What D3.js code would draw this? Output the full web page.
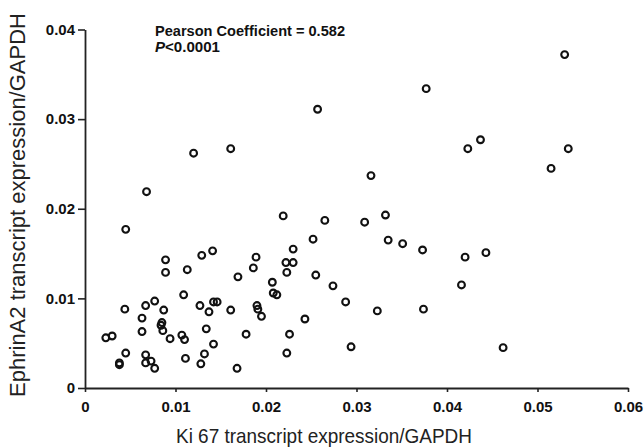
<!DOCTYPE html>
<html>
<head>
<meta charset="utf-8">
<script src="https://cdn.jsdelivr.net/npm/d3@7"></script>
<style>
  body { margin: 0; background: #fff; }
  svg { display: block; font-family: "Liberation Sans", Arial, sans-serif; }
</style>
</head>
<body>
<script>
  var width = 644;
  var height = 447;

  // Ki67 / GAPDH (x) and EphrinA2 / GAPDH (y)
  var ki67 = [
    0.0120, 0.0161, 0.0068, 0.0045, 0.0219, 0.0089, 0.0129, 0.0141, 0.0189, 0.0222,
    0.0089, 0.0113, 0.0186, 0.0223, 0.0169, 0.0207, 0.0109, 0.0208, 0.0212, 0.0044,
    0.0067, 0.0077, 0.0087, 0.0127, 0.0137, 0.0142, 0.0146, 0.0161, 0.0190, 0.0191,
    0.0195, 0.0063, 0.0085, 0.0084, 0.0086, 0.0063, 0.0023, 0.0030, 0.0094, 0.0107,
    0.0110, 0.0134, 0.0178, 0.0226, 0.0045, 0.0067, 0.0111, 0.0132, 0.0142, 0.0223,
    0.0038, 0.0038, 0.0067, 0.0073, 0.0077, 0.0128, 0.0168, 0.0377, 0.0257, 0.0423,
    0.0437, 0.0316, 0.0265, 0.0309, 0.0332, 0.0252, 0.0230, 0.0335, 0.0351, 0.0373,
    0.0420, 0.0230, 0.0255, 0.0274, 0.0416, 0.0288, 0.0323, 0.0374, 0.0243, 0.0294,
    0.0443, 0.0462, 0.0530, 0.0534, 0.0515
  ];
  var ephrinA2 = [
    0.0262, 0.0267, 0.0219, 0.0177, 0.0192, 0.0143, 0.0148, 0.0153, 0.0146, 0.0140,
    0.0129, 0.0132, 0.0134, 0.0129, 0.0124, 0.0118, 0.0104, 0.0106, 0.0104, 0.0088,
    0.0092, 0.0097, 0.0087, 0.0092, 0.0085, 0.0096, 0.0096, 0.0087, 0.0092, 0.0088,
    0.0080, 0.0078, 0.0073, 0.0070, 0.0064, 0.0063, 0.0056, 0.0058, 0.0055, 0.0059,
    0.0054, 0.0066, 0.0060, 0.0060, 0.0039, 0.0037, 0.0033, 0.0038, 0.0049, 0.0039,
    0.0028, 0.0026, 0.0028, 0.0030, 0.0022, 0.0027, 0.0022, 0.0334, 0.0311, 0.0267,
    0.0277, 0.0237, 0.0187, 0.0185, 0.0193, 0.0166, 0.0155, 0.0165, 0.0161, 0.0154,
    0.0146, 0.0140, 0.0126, 0.0114, 0.0115, 0.0096, 0.0086, 0.0088, 0.0077, 0.0046,
    0.0151, 0.0045, 0.0372, 0.0267, 0.0245
  ];
  var xTicks = [0, 0.01, 0.02, 0.03, 0.04, 0.05, 0.06];
  var yTicks = [0, 0.01, 0.02, 0.03, 0.04];

  var points = ki67.map(function(d, i){ return {x: d, y: ephrinA2[i]}; });

  var svg = d3.select('body').append('svg')
    .attr('width', width)
    .attr('height', height);

  // scales
  var xScale = d3.scaleLinear()
    .domain([0, 0.06])
    .range([85, 628]);
  var yScale = d3.scaleLinear()
    .domain([0, 0.04])
    .range([388, 29.5]);

  var fmt = function(d){ return d === 0 ? '0' : d3.format('.2f')(d); };

  var xAxis = svg.append('g')
    .attr('transform', 'translate(0,' + yScale(0) + ')')
    .call(d3.axisBottom(xScale).tickValues(xTicks).tickFormat(fmt)
      .tickSize(4).tickSizeOuter(0).tickPadding(9));

  var yAxis = svg.append('g')
    .attr('transform', 'translate(' + xScale(0) + ',0)')
    .call(d3.axisLeft(yScale).tickValues(yTicks).tickFormat(fmt)
      .tickSize(7).tickSizeOuter(0).tickPadding(3));

  [xAxis, yAxis].forEach(function(g){
    g.select('.domain').attr('stroke', '#222').attr('stroke-width', 1.8);
    g.selectAll('.tick line').attr('stroke', '#222').attr('stroke-width', 1.6);
    g.selectAll('.tick text')
      .attr('fill', '#111')
      .style('font-size', '15px')
      .style('font-weight', 'bold');
  });

  // axis titles
  svg.append('text')
    .attr('x', 324)
    .attr('y', 443)
    .attr('text-anchor', 'middle')
    .attr('fill', '#222')
    .attr('textLength', 296)
    .attr('lengthAdjust', 'spacingAndGlyphs')
    .style('font-size', '21px')
    .text('Ki 67 transcript expression/GAPDH');

  svg.append('text')
    .attr('transform', 'translate(25,205) rotate(-90)')
    .attr('text-anchor', 'middle')
    .attr('fill', '#222')
    .style('font-size', '22px')
    .text('EphrinA2 transcript expression/GAPDH');

  // stats note
  svg.append('text')
    .attr('x', 155)
    .attr('y', 36)
    .attr('fill', '#111')
    .attr('textLength', 190)
    .attr('lengthAdjust', 'spacingAndGlyphs')
    .style('font-size', '14px')
    .style('font-weight', 'bold')
    .text('Pearson Coefficient = 0.582');

  var pLine = svg.append('text')
    .attr('x', 155)
    .attr('y', 52)
    .attr('fill', '#111')
    .attr('textLength', 65)
    .attr('lengthAdjust', 'spacingAndGlyphs')
    .style('font-size', '14px')
    .style('font-weight', 'bold');
  pLine.append('tspan').style('font-style', 'italic').text('P');
  pLine.append('tspan').text('<0.0001');

  // data points
  svg.append('g').selectAll('circle')
    .data(points)
    .enter().append('circle')
    .attr('cx', d => xScale(d.x))
    .attr('cy', d => yScale(d.y))
    .attr('r', 3.4)
    .attr('fill', 'none')
    .attr('stroke', '#111')
    .attr('stroke-width', 2.1);
</script>
</body>
</html>
